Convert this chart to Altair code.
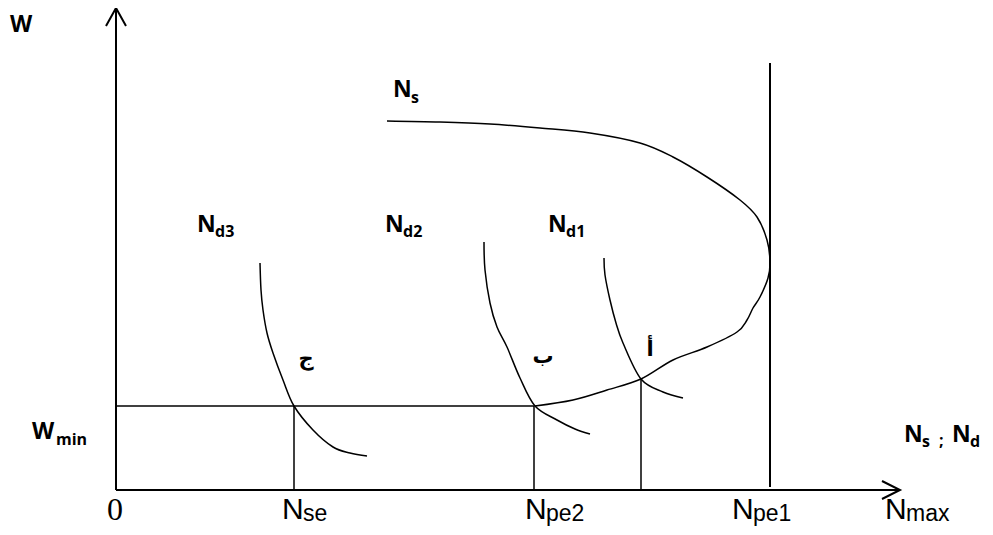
import altair as alt
import pandas as pd

# ---- curve data (N on x, W on y) ----
ns_N = [271, 324, 374, 424, 474, 524, 557, 591, 624, 641, 651, 654, 652, 644, 637, 631, 621, 591, 557, 525, 491, 457, 419]
ns_W = [369, 368, 366, 362, 357, 347, 333, 313, 290, 273, 250, 228, 212, 193, 182, 170, 158, 143, 130, 111, 100, 90, 84]
nd3_N = [144, 145, 147, 151, 157, 167, 178, 197, 217, 234, 251]
nd3_W = [227, 200, 180, 157, 137, 110, 84, 60, 43, 37, 34]
nd2_N = [368, 369, 374, 381, 391, 404, 419, 441, 459, 474]
nd2_W = [248, 220, 187, 163, 143, 112, 84, 70, 61, 56]
nd1_N = [488, 489, 494, 500, 507, 525, 547, 567]
nd1_W = [232, 215, 190, 167, 147, 111, 98, 92]

# key levels
w_min = 84
n_se = 178
n_pe2 = 418
n_a = 525
w_a = 111
n_pe1 = 654
n_top = 427
n_axis_end = 784
w_axis_end = 482

X_DOM = [-108, 869]
Y_DOM = [-37, 482]


def seg(pid, ns, ws):
    return [{"id": pid, "o": i, "N": n, "W": w} for i, (n, w) in enumerate(zip(ns, ws))]


curves = pd.DataFrame(seg("Ns", ns_N, ns_W) + seg("Nd3", nd3_N, nd3_W)
                      + seg("Nd2", nd2_N, nd2_W) + seg("Nd1", nd1_N, nd1_W))

guides = pd.DataFrame(
    seg("wmin", [0, n_pe2], [w_min, w_min])
    + seg("vse", [n_se, n_se], [0, w_min])
    + seg("vpe2", [n_pe2, n_pe2], [0, w_min])
    + seg("va", [n_a, n_a], [0, w_a])
)
pe1 = pd.DataFrame(seg("vpe1", [n_pe1, n_pe1], [3, n_top]))

axes = pd.DataFrame(
    seg("yax", [0, 0], [0, w_axis_end])
    + seg("yarr", [-10, 0, 10], [w_axis_end - 18, w_axis_end, w_axis_end - 18])
    + seg("xax", [0, n_axis_end], [0, 0])
    + seg("xarr", [n_axis_end - 18, n_axis_end, n_axis_end - 18], [9, 0, -9])
)

xs = alt.Scale(domain=X_DOM, nice=False, zero=False)
ys = alt.Scale(domain=Y_DOM, nice=False, zero=False)


def lines(df, width, interp="linear"):
    return alt.Chart(df).mark_line(color="black", strokeWidth=width, interpolate=interp,
                                   strokeCap="butt").encode(
        x=alt.X("N:Q", scale=xs, axis=None),
        y=alt.Y("W:Q", scale=ys, axis=None),
        detail="id:N",
        order="o:Q",
    )


# ---- labels ----
bold_main = pd.DataFrame({"t": ["W", "N", "N", "N", "N", "W", "N", "N"],
                          "N": [-106, 277, 81, 269, 432, -84, 788, 836],
                          "W": [458, 393, 258, 258, 258, 51, 48, 48]})
bold_sub = pd.DataFrame({"t": ["s", "d3", "d2", "d1", "min", "s", ";", "d"],
                         "N": [295, 99, 287, 450, -60, 806, 823, 854],
                         "W": [387, 253, 253, 253, 45, 43, 44, 43]})
reg_main = pd.DataFrame({"t": ["N", "N", "N", "N"],
                         "N": [166, 409, 616, 769],
                         "W": [-29, -29, -29, -29]})
reg_sub = pd.DataFrame({"t": ["se", "pe2", "pe1", "max"],
                        "N": [187, 430, 637, 790],
                        "W": [-31, -31, -31, -31]})
serif = pd.DataFrame({"t": ["0"], "N": [-9], "W": [-30]})
arabic = pd.DataFrame({"t": ["ج", "ب", "أ"],
                       "N": [190, 427, 534],
                       "W": [131, 133, 140]})


def text(df, font, size, weight="normal", align="left", baseline="alphabetic"):
    return alt.Chart(df).mark_text(font=font, fontSize=size, fontWeight=weight, align=align,
                                   baseline=baseline, color="black").encode(
        x=alt.X("N:Q", scale=xs, axis=None),
        y=alt.Y("W:Q", scale=ys, axis=None),
        text="t:N",
    )


chart = alt.layer(
    lines(axes, 2),
    lines(guides, 1.5),
    lines(pe1, 2),
    lines(curves, 1.5, "cardinal"),
    text(bold_main, "Open Sans", 23, "bold"),
    text(bold_sub, "Open Sans", 16, "bold"),
    text(reg_main, "Liberation Sans", 30),
    text(reg_sub, "Liberation Sans", 23),
    text(serif, "Liberation Serif", 32),
    text(arabic, "DejaVu Sans", 21, "bold", "center", "middle"),
).properties(
    width=977, height=519, padding=0, autosize=alt.AutoSizeParams(type="none")
).configure_view(stroke=None)

chart.save("out.html", embed_options={"renderer": "svg", "actions": False})
